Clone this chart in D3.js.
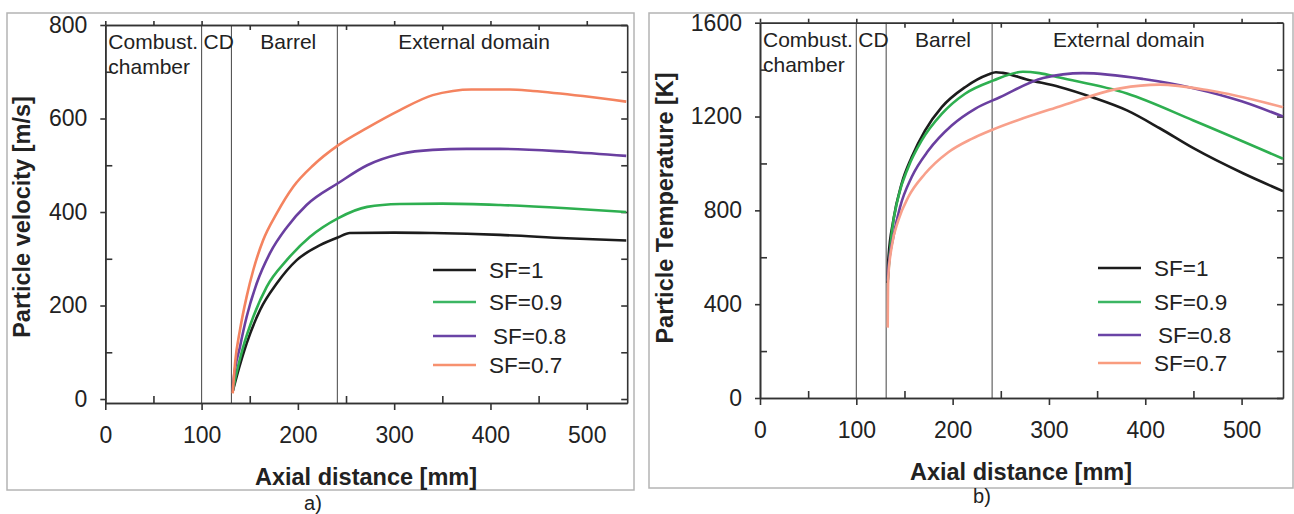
<!DOCTYPE html>
<html>
<head>
<meta charset="utf-8">
<script src="https://cdn.jsdelivr.net/npm/d3@7"></script>
<style>
  body { margin: 0; background: #fff; }
  svg { display: block; }
  text { font-family: "Liberation Sans", Arial, sans-serif; fill: #222; }
</style>
</head>
<body>
<svg id="chart" width="1294" height="514"></svg>
<script>
// ---- Data: axial distance [mm] vs particle velocity [m/s] ----
const velSF1  = [[132.5,18],[136.4,48],[146.8,119],[160.6,190],[178,247],[198.8,297],[223,329],[242,346],[254,355],[300,356],[340,355],[410,351],[479,344],[541,339]];
const velSF09 = [[132.5,18],[134.7,41],[143.3,112],[153.7,176],[167.6,240],[188.4,297],[212.6,347],[242,387],[272,411],[306,417],[350,418],[410,415],[479,408],[541,400]];
const velSF08 = [[132.5,18],[132.9,34],[139.9,112],[146.8,176],[157.2,247],[171,312],[188.4,367],[209,415],[242,462],[272,500],[306,524],[340,533],[375,535],[410,535],[479,529],[541,520]];
const velSF07 = [[132.3,12],[134.7,76],[139.9,148],[146.8,219],[153.7,276],[164,340],[178,397],[195.2,454],[216,500],[242,543],[272,580],[306,618],[340,650],[361,659],[380,662],[420,662],[444,659],[496,648],[541,636]];

// ---- Data: axial distance [mm] vs particle temperature [K] ----
const tempSF1  = [[132.6,490],[133.2,587],[138.4,757],[147.1,914],[157.5,1027],[171.3,1140],[188.7,1240],[212.9,1325],[237,1379],[245,1389],[252,1386],[277,1358],[311,1326],[345,1282],[381,1226],[415,1150],[450,1065],[502,957],[543,882]];
const tempSF09 = [[132.6,500],[136.7,701],[143.6,857],[154,984],[167.9,1098],[188.7,1211],[212.9,1297],[242,1353],[273,1391],[290,1385],[311,1366],[381,1298],[450,1183],[543,1020]];
const tempSF08 = [[132.6,500],[133.2,545],[138.4,686],[145.4,814],[157.5,942],[174.8,1055],[199,1162],[223.3,1233],[249,1282],[294,1364],[335,1385],[398,1360],[450,1321],[500,1265],[543,1200]];
const tempSF07 = [[132.6,300],[132.8,420],[133.2,516],[136.7,644],[143.6,757],[154,857],[171.3,956],[195.5,1048],[219.8,1105],[242,1145],[311,1243],[374,1320],[415,1336],[467,1311],[543,1240]];

// ---- Labels and ticks ----
const seriesNames = ["SF=1", "SF=0.9", "SF=0.8", "SF=0.7"];
const xMajorTicks = [0, 100, 200, 300, 400, 500];
const xMinorTicks = [50, 150, 250, 350, 450];
const velMajorTicks = [0, 200, 400, 600, 800];
const velMinorTicks = [100, 300, 500, 700];
const tempMajorTicks = [0, 400, 800, 1200, 1600];
const tempMinorTicks = [200, 600, 1000, 1400];
const zoneBounds = [100, 131, 241];   // combustion chamber | CD nozzle | barrel | external domain

const svg = d3.select("#chart");

function drawPanel(p) {
  const g = svg.append("g");

  // outer frame
  g.append("rect")
    .attr("x", p.frame[0]).attr("y", p.frame[1])
    .attr("width", p.frame[2] - p.frame[0]).attr("height", p.frame[3] - p.frame[1])
    .attr("fill", "none").attr("stroke", "#b4b4b4").attr("stroke-width", 1.5);

  const x = d3.scaleLinear().domain(p.xDomain).range([p.left, p.right]);
  const y = d3.scaleLinear().domain(p.yDomain).range([p.bottom, p.top]);

  const axisStyle = sel => {
    sel.selectAll("path").attr("stroke", "#333").attr("stroke-width", 1.6);
    sel.selectAll("line").attr("stroke", "#333").attr("stroke-width", 1.6);
    sel.selectAll("text").attr("fill", "#222").style("font-size", "23px")
      .style("font-family", '"Liberation Sans", Arial, sans-serif');
  };

  // zone separators
  g.selectAll(".zone").data(zoneBounds).enter().append("line")
    .attr("x1", d => x(d)).attr("x2", d => x(d))
    .attr("y1", p.top).attr("y2", p.bottom)
    .attr("stroke", "#555").attr("stroke-width", 1.1);

  // bottom axis: labelled majors outward, minors inward
  g.append("g").attr("transform", `translate(0,${p.bottom})`)
    .call(d3.axisBottom(x).tickValues(xMajorTicks).tickSize(7).tickSizeOuter(0).tickPadding(17).tickFormat(d3.format("d")))
    .call(axisStyle);
  g.append("g").attr("transform", `translate(0,${p.bottom})`)
    .call(d3.axisBottom(x).tickValues(xMinorTicks).tickSize(-7).tickSizeOuter(0).tickFormat(""))
    .call(axisStyle);

  // top axis
  g.append("g").attr("transform", `translate(0,${p.top})`)
    .call(d3.axisTop(x).tickValues(xMajorTicks.concat([50])).tickSize(4).tickSizeOuter(0).tickFormat(""))
    .call(axisStyle);
  g.append("g").attr("transform", `translate(0,${p.top})`)
    .call(d3.axisTop(x).tickValues(xMinorTicks.slice(1)).tickSize(-5).tickSizeOuter(0).tickFormat(""))
    .call(axisStyle);

  // left axis
  g.append("g").attr("transform", `translate(${p.left},0)`)
    .call(d3.axisLeft(y).tickValues(p.yMajor).tickSize(5).tickSizeOuter(0).tickPadding(13).tickFormat(d3.format("d")))
    .call(axisStyle);
  g.append("g").attr("transform", `translate(${p.left},0)`)
    .call(d3.axisLeft(y).tickValues(p.yMinor).tickSize(-7).tickSizeOuter(0).tickFormat(""))
    .call(axisStyle);

  // right axis, ticks pointing inward
  g.append("g").attr("transform", `translate(${p.right},0)`)
    .call(d3.axisRight(y).tickValues(p.yMajor.concat(p.yMinor)).tickSize(-6).tickSizeOuter(0).tickFormat(""))
    .call(axisStyle);

  // zone labels
  const zt = g.append("g").style("font-size", "21px");
  zt.append("text").attr("x", x(0) + 3).attr("y", p.zoneY).text("Combust.");
  zt.append("text").attr("x", x(0) + 3).attr("y", p.zoneY + 25).text("chamber");
  zt.append("text").attr("x", x(100) + 2).attr("y", p.zoneY).text("CD");
  zt.append("text").attr("x", x(190)).attr("y", p.zoneY).attr("text-anchor", "middle").text("Barrel");
  zt.append("text").attr("x", x(383)).attr("y", p.zoneY).attr("text-anchor", "middle").text("External domain");

  // curves
  const line = d3.line().x(d => x(d[0])).y(d => y(d[1])).curve(d3.curveMonotoneX);
  p.series.forEach((s, i) => {
    g.append("path").datum(s)
      .attr("d", line)
      .attr("fill", "none")
      .attr("stroke", p.colors[i])
      .attr("stroke-width", 2.6)
      .attr("stroke-linejoin", "round");
  });

  // legend
  const lg = g.append("g");
  seriesNames.forEach((name, i) => {
    const ly = p.legendY[i];
    lg.append("line")
      .attr("x1", p.legendX).attr("x2", p.legendX + 43)
      .attr("y1", ly).attr("y2", ly)
      .attr("stroke", p.legendColors[i]).attr("stroke-width", 2.6);
    lg.append("text")
      .attr("x", p.legendX + 56 + (i === 2 ? 4 : 0)).attr("y", ly)
      .attr("dy", "0.35em").style("font-size", "22.5px").text(name);
  });

  // axis titles
  g.append("text")
    .attr("x", p.xTitle[0]).attr("y", p.xTitle[1])
    .attr("text-anchor", "middle").style("font-size", "23.5px").style("font-weight", "bold")
    .text("Axial distance [mm]");
  g.append("text")
    .attr("transform", `translate(${p.yTitle[0]},${p.yTitle[1]}) rotate(-90)`)
    .attr("text-anchor", "middle").attr("dy", "0.35em")
    .style("font-size", "23.5px").style("font-weight", "bold")
    .text(p.yLabel);

  // panel tag
  g.append("text")
    .attr("x", p.tag[0]).attr("y", p.tag[1])
    .attr("text-anchor", "middle").style("font-size", "20px")
    .text(p.tagText);
}

drawPanel({
  frame: [7, 13, 634, 490],
  left: 105.3, right: 627.2, top: 25, bottom: 403,
  xDomain: [0, 542], yDomain: [-8.5, 800],
  yMajor: velMajorTicks, yMinor: velMinorTicks,
  series: [velSF1, velSF09, velSF08, velSF07],
  colors: ["#1c1c1c", "#2eaf50", "#6a3fa0", "#f4835f"],
  legendColors: ["#1c1c1c", "#3cb663", "#6a44a6", "#f7916f"],
  legendX: 433, legendY: [270, 302, 336, 365],
  zoneY: 49,
  xTitle: [366, 485], yTitle: [22, 217],
  yLabel: "Particle velocity [m/s]",
  tag: [313, 510], tagText: "a)"
});

drawPanel({
  frame: [649, 13, 1293, 488],
  left: 760, right: 1283, top: 22.7, bottom: 398,
  xDomain: [0, 543], yDomain: [0, 1600],
  yMajor: tempMajorTicks, yMinor: tempMinorTicks,
  series: [tempSF1, tempSF09, tempSF08, tempSF07],
  colors: ["#1c1c1c", "#2eaf50", "#6a3fa0", "#f8a08b"],
  legendColors: ["#1c1c1c", "#3cb663", "#6a44a6", "#f99c7e"],
  legendX: 1098, legendY: [268, 302, 335, 363],
  zoneY: 47,
  xTitle: [1021, 480], yTitle: [665, 208],
  yLabel: "Particle Temperature [K]",
  tag: [982, 503], tagText: "b)"
});
</script>
</body>
</html>
